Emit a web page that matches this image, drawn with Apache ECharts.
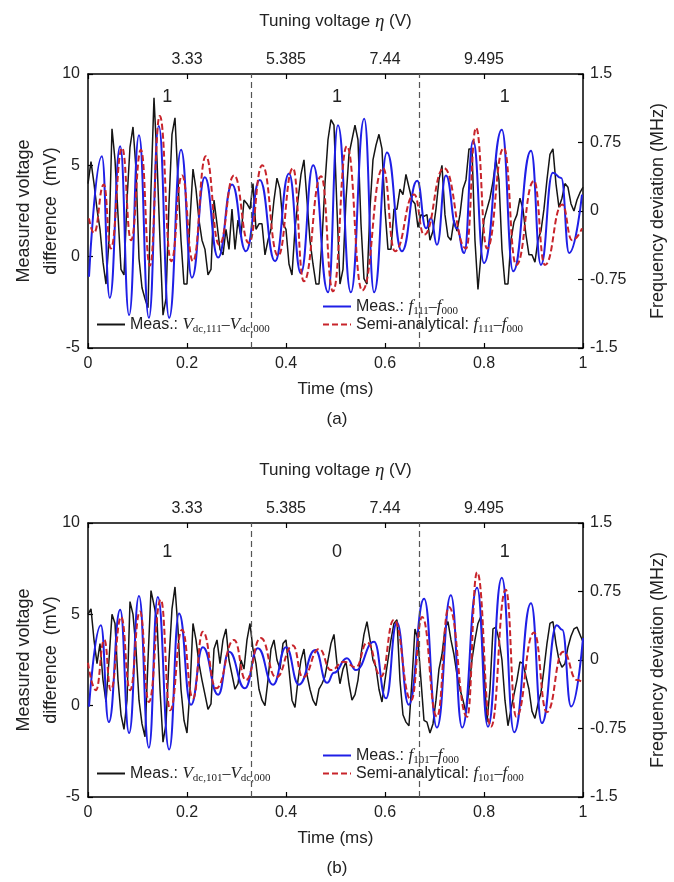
<!DOCTYPE html>
<html><head><meta charset="utf-8">
<script src="https://cdn.jsdelivr.net/npm/echarts@6/dist/echarts.min.js"></script>
<style>html,body{margin:0;padding:0;background:#fff}#c{width:674px;height:882px}</style>
</head><body><div id="c"></div>
<script>
// ---------- data ----------
const tuningPos = [0.2, 0.4, 0.6, 0.8];
const tuningLabels = ['3.33', '5.385', '7.44', '9.495'];
const regionBounds = [1 / 3, 2 / 3];
const bitPosT = [0.16, 0.503, 0.842];
const bitsA = ['1', '1', '1'];
const bitsB = ['1', '0', '1'];
const blackDt = 0.00606; // sample spacing of the measured voltage trace (ms)

// panel (a)
const blackA = [4.0,5.2,4.0,2.6,1.5,-0.3,-1.5,0.9,7.0,5.3,
2.3,-0.7,-1.0,3.1,6.0,7.1,4.8,-0.1,-1.7,-2.3,
-2.8,3.7,8.7,5.3,0.9,-3.2,-2.3,2.9,6.7,7.6,
4.2,0.9,-1.5,-1.5,2.0,4.8,3.7,2.0,0.9,0.4,
-1.0,-0.7,3.1,1.8,0.4,0.1,1.5,0.4,2.6,0.4,
2.0,1.1,3.1,2.9,2.6,4.0,1.5,1.8,1.8,0.1,
0.9,1.5,3.1,4.3,3.7,1.8,1.5,-0.4,-1.0,1.5,
3.1,4.5,5.3,3.1,0.9,-0.4,-1.5,-1.5,0.9,4.0,
6.4,7.5,7.2,2.6,-1.5,-0.7,3.1,5.6,6.4,7.2,
6.4,1.8,-1.2,-1.5,2.6,5.3,6.1,6.7,5.9,2.6,
0.4,0.4,2.6,2.6,3.7,3.4,4.5,3.8,3.1,2.9,
1.6,2.3,2.2,2.3,0.9,1.4,2.6,4.2,5.0,2.3,
1.1,0.9,2.0,1.4,2.3,3.7,4.2,5.9,5.9,0.9,
-1.8,0.1,2.0,2.6,3.2,4.1,5.3,4.2,0.4,-1.5,
-1.5,0.9,1.9,2.3,3.2,2.6,1.2,0.1,0.1,-0.3,
0.9,1.4,2.6,4.2,5.6,5.9,4.0,2.7,3.2,4.0,
3.8,2.9,2.5,3.1,3.5,3.8];
const blueA_t = [0.002,0.028,0.044,0.065,0.083,0.103,0.123,0.143,0.164,0.188,0.210,0.236,0.263,0.291,0.319,0.347,0.378,0.406,0.430,0.455,0.485,0.505,0.531,0.558,0.578,0.604,0.634,0.665,0.683,0.693,0.705,0.723,0.745,0.760,0.778,0.800,0.836,0.859,0.895,0.915,0.939,0.956,0.972,0.998];
const blueA_v = [-0.72,0.60,-0.95,0.71,-1.14,0.83,-1.17,0.93,-1.17,0.67,-0.73,0.37,-0.51,0.29,-0.44,0.34,-0.55,0.41,-0.68,0.50,-0.89,0.94,-0.89,1.01,-0.89,0.64,-0.44,0.33,-0.19,-0.08,-0.37,0.39,-0.19,-0.46,0.77,-0.57,0.89,-0.66,0.66,-0.59,0.42,0.36,-0.46,0.18];
const redA_t = [0.002,0.012,0.032,0.046,0.069,0.087,0.107,0.125,0.145,0.168,0.190,0.212,0.238,0.265,0.295,0.325,0.352,0.384,0.414,0.436,0.471,0.495,0.523,0.554,0.596,0.620,0.659,0.679,0.719,0.764,0.784,0.806,0.840,0.865,0.901,0.923,0.958,0.978,0.998];
const redA_v = [-0.08,-0.24,0.29,-0.41,0.69,-0.32,0.67,-0.60,1.04,-0.55,0.39,-0.55,0.60,-0.37,0.39,-0.35,0.50,-0.49,0.47,-0.77,0.38,-0.88,0.71,-0.87,0.47,-0.44,0.18,-0.26,0.47,-0.41,0.91,-0.41,0.69,-0.59,0.33,-0.59,0.07,-0.32,-0.19];

// panel (b)
const blackB = [5.0,5.3,3.6,2.3,3.4,1.4,0.2,2.5,5.0,4.5,
1.4,-0.5,-1.3,0.3,5.7,5.0,3.1,0.3,-1.0,-1.7,
2.5,6.3,5.5,4.7,0.9,-2.0,-1.0,2.5,5.3,6.5,
4.2,0.9,-0.8,-1.5,0.9,4.5,3.6,2.3,1.4,0.6,
-0.2,0.1,3.1,3.6,2.3,3.6,4.2,2.5,1.7,0.9,
1.2,2.5,2.0,3.6,4.5,3.1,2.3,0.9,0.3,0.0,
1.4,3.1,3.6,2.5,2.0,3.4,3.6,2.0,0.3,-0.1,
1.4,2.5,3.1,1.7,0.9,0.3,0.0,0.9,1.2,1.6,
2.5,3.4,3.9,2.3,1.2,2.0,2.4,1.2,0.3,0.6,
1.4,2.8,3.9,4.6,3.6,2.5,2.1,0.9,0.2,1.4,
2.5,3.6,4.5,4.7,1.4,-0.5,-0.9,-1.1,1.4,4.2,
3.6,1.4,-0.8,-0.9,-1.5,-1.0,0.3,2.0,2.8,4.2,
4.6,3.6,2.8,1.7,0.9,0.3,-0.4,0.9,2.5,3.6,
4.5,4.9,2.0,-0.9,0.9,4.2,4.3,3.6,2.5,0.3,
-1.1,-0.2,0.6,1.4,2.4,2.3,1.6,0.9,-0.3,-0.7,
0.1,0.7,2.0,3.4,4.5,4.6,3.4,2.5,2.1,2.3,
3.2,3.8,4.2,4.3,3.9,3.5];
const blueB_t = [0.002,0.026,0.042,0.065,0.083,0.103,0.123,0.141,0.164,0.184,0.208,0.232,0.263,0.285,0.317,0.343,0.374,0.400,0.426,0.459,0.483,0.497,0.523,0.541,0.578,0.602,0.624,0.648,0.679,0.705,0.733,0.756,0.786,0.808,0.836,0.861,0.895,0.917,0.947,0.958,0.976,1.0];
const blueB_v = [-0.51,0.38,-0.68,0.55,-0.80,0.70,-0.96,0.69,-0.98,0.51,-0.49,0.14,-0.38,0.09,-0.31,0.13,-0.27,0.14,-0.27,0.11,-0.25,-0.14,0.02,-0.11,0.20,-0.42,0.41,-0.49,0.67,-0.74,0.71,-0.74,0.79,-0.73,0.90,-0.79,0.62,-0.69,0.38,0.33,-0.51,0.24];
const redB_t = [0.000,0.016,0.033,0.046,0.067,0.085,0.105,0.123,0.147,0.166,0.190,0.212,0.232,0.259,0.295,0.319,0.349,0.380,0.414,0.434,0.467,0.491,0.517,0.541,0.564,0.592,0.618,0.653,0.675,0.705,0.729,0.766,0.786,0.814,0.844,0.865,0.901,0.927,0.960,0.988,1.0];
const redB_v = [-0.03,-0.33,0.22,-0.33,0.47,-0.33,0.53,-0.46,0.66,-0.55,0.33,-0.42,0.31,-0.31,0.22,-0.22,0.24,-0.19,0.16,-0.19,0.12,-0.11,-0.02,-0.08,0.19,-0.18,0.44,-0.44,0.47,-0.62,0.58,-0.62,0.96,-0.73,0.77,-0.62,0.30,-0.57,0.09,-0.22,-0.25];

// ---------- chart ----------
const FONT = '"Liberation Sans", Arial, sans-serif';
const SERIF = '"Liberation Serif", "Times New Roman", serif';
const TXT = '#222';

function pairs(ts, vs) { return ts.map((t, i) => [t, vs[i]]); }
function sampled(vs) { return vs.map((v, i) => [i * blackDt, v]); }

const panels = [
  { top: 74, black: blackA, blue: pairs(blueA_t, blueA_v), red: pairs(redA_t, redA_v), bits: bitsA, bitY: 8.74, sub: '111', tag: '(a)', key: 'A' },
  { top: 523, black: blackB, blue: pairs(blueB_t, blueB_v), red: pairs(redB_t, redB_v), bits: bitsB, bitY: 8.41, sub: '101', tag: '(b)', key: 'B' }
];
const GL = 88, GW = 495, GH = 274;

const rich = {
  n: { fontSize: 16, fontFamily: FONT, color: TXT },
  i: { fontSize: 17, fontFamily: SERIF, fontStyle: 'italic', color: TXT },
  s: { fontSize: 11, fontFamily: SERIF, color: TXT, padding: [9, 0, 0, 0] },
  d: { fontSize: 16, fontFamily: SERIF, color: TXT }
};
const legendText = {};
panels.forEach(p => {
  legendText['black' + p.key] = '{n|Meas.: }{i|V}{s|dc,' + p.sub + '}{d|–}{i|V}{s|dc,000}';
  legendText['blue' + p.key] = '{n|Meas.: }{i|f}{s|' + p.sub + '}{d|–}{i|f}{s|000}';
  legendText['red' + p.key] = '{n|Semi-analytical: }{i|f}{s|' + p.sub + '}{d|–}{i|f}{s|000}';
});

const axisLine = { show: true, onZero: false, lineStyle: { color: '#000', width: 1.5 } };
const axisTick = { show: true, inside: true, length: 5, lineStyle: { color: '#000', width: 1.2 } };
const lbl = { color: TXT, fontSize: 16, fontFamily: FONT };
const nameStyle = { color: TXT, fontSize: 17, fontFamily: FONT };

const grid = [], xAxis = [], yAxis = [], series = [], legend = [], graphic = [];
panels.forEach((p, k) => {
  grid.push({ left: GL, top: p.top, width: GW, height: GH, containLabel: false, outerBoundsMode: 'none' });
  xAxis.push({
    gridIndex: k, type: 'value', min: 0, max: 1, interval: 0.2, position: 'bottom',
    axisLine, axisTick, splitLine: { show: false },
    axisLabel: { ...lbl, margin: 8 },
    name: 'Time (ms)', nameLocation: 'middle', nameGap: 33, nameTextStyle: nameStyle
  });
  xAxis.push({
    gridIndex: k, type: 'value', min: 0, max: 1, interval: 0.2, position: 'top',
    axisLine, axisTick, splitLine: { show: false },
    axisLabel: { ...lbl, margin: 6, formatter: v => { const j = tuningPos.findIndex(q => Math.abs(q - v) < 1e-6); return j >= 0 ? tuningLabels[j] : ''; } },
    name: '{n|Tuning voltage }{i|η}{n| (V)}', nameLocation: 'middle', nameGap: 43,
    nameTextStyle: { ...nameStyle, rich: { n: { fontSize: 17, fontFamily: FONT, color: TXT }, i: { fontSize: 19, fontFamily: SERIF, fontStyle: 'italic', color: TXT } } }
  });
  yAxis.push({
    gridIndex: k, type: 'value', min: -5, max: 10, interval: 5, position: 'left',
    axisLine, axisTick, splitLine: { show: false },
    axisLabel: { ...lbl, margin: 8 },
    name: 'Measured voltage\ndifference  (mV)', nameLocation: 'middle', nameGap: 23, nameRotate: 90,
    nameMoveOverlap: false,
    nameTextStyle: { ...nameStyle, fontSize: 18, lineHeight: 27 }
  });
  yAxis.push({
    gridIndex: k, type: 'value', min: -1.5, max: 1.5, interval: 0.75, position: 'right',
    axisLine, axisTick, splitLine: { show: false },
    axisLabel: { ...lbl, margin: 7 },
    name: 'Frequency deviation (MHz)', nameLocation: 'middle', nameGap: 66, nameRotate: 90,
    nameMoveOverlap: false,
    nameTextStyle: { ...nameStyle, fontSize: 18 }
  });
  const xb = k * 2, yl = k * 2, yr = k * 2 + 1;
  series.push({
    name: 'black' + p.key, type: 'line', xAxisIndex: xb, yAxisIndex: yl,
    data: sampled(p.black), symbol: 'none', showSymbol: false, smooth: false,
    lineStyle: { color: '#151515', width: 1.5 }, itemStyle: { color: '#151515' }, z: 2,
    markLine: {
      silent: true, symbol: ['none', 'none'], label: { show: false },
      lineStyle: { type: [6, 4], color: '#555', width: 1.2 },
      data: regionBounds.map(v => ({ xAxis: v }))
    },
    markPoint: {
      silent: true, symbol: 'circle', symbolSize: 1, itemStyle: { color: 'rgba(0,0,0,0)' },
      label: { show: true, position: 'inside', formatter: '{b}', color: TXT, fontSize: 18, fontFamily: FONT },
      data: bitPosT.map((t, j) => ({ name: p.bits[j], coord: [t, p.bitY] }))
    }
  });
  series.push({
    name: 'blue' + p.key, type: 'line', xAxisIndex: xb, yAxisIndex: yr,
    data: p.blue, symbol: 'none', showSymbol: false, smooth: 0.5, smoothMonotone: 'x',
    lineStyle: { color: '#1f1fe6', width: 2 }, itemStyle: { color: '#1f1fe6' }, z: 3
  });
  series.push({
    name: 'red' + p.key, type: 'line', xAxisIndex: xb, yAxisIndex: yr,
    data: p.red, symbol: 'none', showSymbol: false, smooth: 0.5, smoothMonotone: 'x',
    lineStyle: { color: '#c8242b', width: 2, type: [6, 3] }, itemStyle: { color: '#c8242b' }, z: 4
  });
  const lg = (name, left, y) => ({
    show: true, data: [name], left, top: y - 9, orient: 'horizontal', padding: 0,
    itemWidth: 28, itemHeight: 14, itemGap: 0, selectedMode: false,
    itemStyle: { opacity: 0 },
    formatter: n => legendText[n], textStyle: { rich, color: TXT, fontSize: 16, fontFamily: FONT }
  });
  legend.push(lg('blue' + p.key, 322, p.top + 233));
  legend.push(lg('black' + p.key, 96, p.top + 251));
  legend.push(lg('red' + p.key, 322, p.top + 251));
  graphic.push({ type: 'text', left: 'center', top: p.top + 337, style: { text: p.tag, fontSize: 17, fontFamily: FONT, fill: TXT } });
});

const chart = echarts.init(document.getElementById('c'), null, { renderer: 'canvas' });
chart.setOption({ backgroundColor: '#fff', animation: false, grid, xAxis, yAxis, series, legend, graphic });
</script></body></html>
